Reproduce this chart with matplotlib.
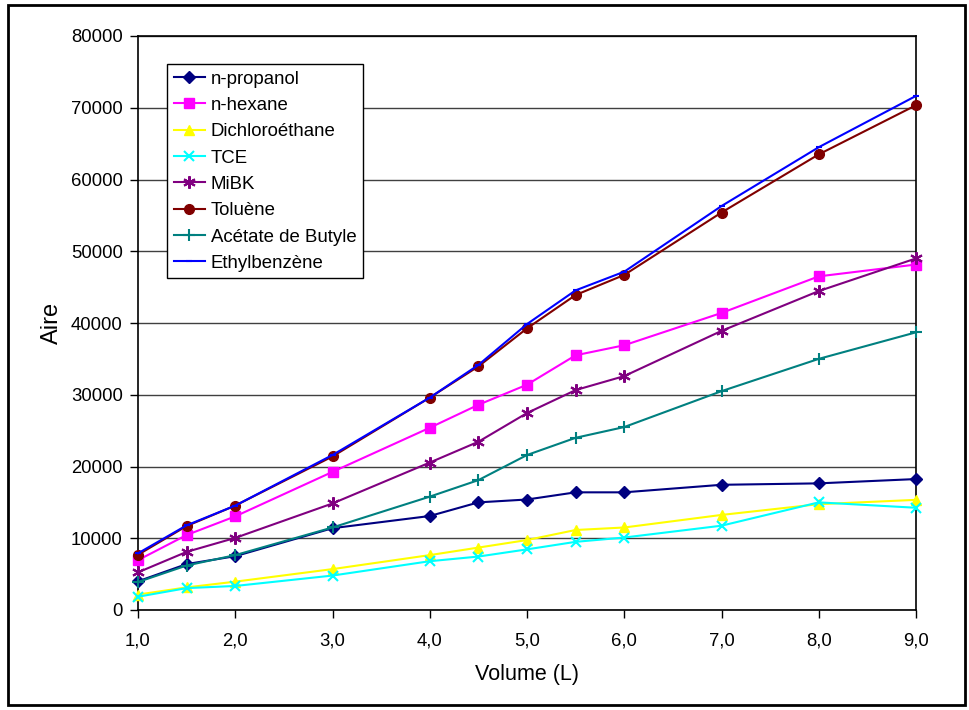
import matplotlib.pyplot as plt
from matplotlib.patches import Rectangle

plt.rcParams['font.family'] = ['Liberation Sans', 'DejaVu Sans']

# Volumes (L)
volume = [1.0, 1.5, 2.0, 3.0, 4.0, 4.5, 5.0, 5.5, 6.0, 7.0, 8.0, 9.0]

# Areas
n_propanol = [4000, 6400, 7500, 11400, 13100, 15000, 15400, 16400, 16400, 17450, 17650, 18250]
n_hexane = [6950, 10450, 13050, 19250, 25400, 28600, 31400, 35500, 36900, 41400, 46500, 48150]
dichloroethane = [2150, 3150, 3950, 5700, 7650, 8700, 9750, 11150, 11500, 13250, 14750, 15350]
tce = [1850, 3050, 3350, 4800, 6800, 7450, 8450, 9500, 10100, 11750, 15000, 14250]
mibk = [5250, 8100, 10050, 14850, 20550, 23450, 27450, 30650, 32600, 38900, 44450, 49000]
toluene = [7700, 11700, 14550, 21400, 29600, 33950, 39250, 43900, 46700, 55400, 63500, 70350]
acetate_butyle = [3900, 6200, 7650, 11500, 15800, 18100, 21600, 24000, 25500, 30500, 35000, 38700]
ethylbenzene = [7900, 11800, 14550, 21600, 29600, 34150, 39850, 44550, 47150, 56300, 64500, 71650]

series = [
    ("n-propanol", n_propanol, "#000080", "D", 6),
    ("n-hexane", n_hexane, "#FF00FF", "s", 7),
    ("Dichloroéthane", dichloroethane, "#FFFF00", "^", 7),
    ("TCE", tce, "#00FFFF", "x", 7),
    ("MiBK", mibk, "#800080", (6, 2, 0), 9),
    ("Toluène", toluene, "#800000", "o", 7),
    ("Acétate de Butyle", acetate_butyle, "#008080", "+", 8),
    ("Ethylbenzène", ethylbenzene, "#0000FF", "_", 5),
]

fig = plt.figure(figsize=(9.69, 7.10), dpi=100)
ax = fig.add_axes([138 / 969, 100 / 710, 778 / 969, 574 / 710])

for name, vals, color, marker, ms in series:
    thin = marker in ("x", "+", "_") or isinstance(marker, tuple)
    ax.plot(volume, vals, color=color, marker=marker, markersize=ms, lw=1.5,
            markeredgewidth=1.5 if thin else 1, markeredgecolor=color,
            label=name, zorder=3, clip_on=False)

ax.set_xlim(1, 9)
ax.set_ylim(0, 80000)
ax.set_xticks(range(1, 10))
ax.set_xticklabels([f"{i},0" for i in range(1, 10)])
ax.set_yticks(range(0, 80001, 10000))
ax.set_yticklabels([str(v) for v in range(0, 80001, 10000)])
ax.tick_params(direction="out", length=6, width=1, labelsize=13.3, colors="black")
ax.tick_params(axis="x", pad=10)
ax.tick_params(axis="y", pad=5)
ax.yaxis.grid(True, color="#404040", lw=1)
ax.set_axisbelow(True)
for s in ax.spines.values():
    s.set_linewidth(1.2)
    s.set_color("black")

ax.set_xlabel("Volume (L)", fontsize=15.5, labelpad=10.5)
ax.set_ylabel("Aire", fontsize=17, labelpad=5.5)

leg = ax.legend(loc="upper left", bbox_to_anchor=(167 / 969, 1 - 64 / 710),
                bbox_transform=fig.transFigure, fontsize=13.4, frameon=True,
                fancybox=False, edgecolor="black", framealpha=1,
                handlelength=1.7, handletextpad=0.3, borderpad=0.35,
                labelspacing=0.5, borderaxespad=0)
leg.get_frame().set_linewidth(1)

# outer chart border
fig.patches.append(Rectangle((8 / 969, 5 / 710), 957 / 969, 700 / 710,
                             transform=fig.transFigure, fill=False,
                             edgecolor="black", lw=2))

fig.savefig("out.png", dpi=100)
